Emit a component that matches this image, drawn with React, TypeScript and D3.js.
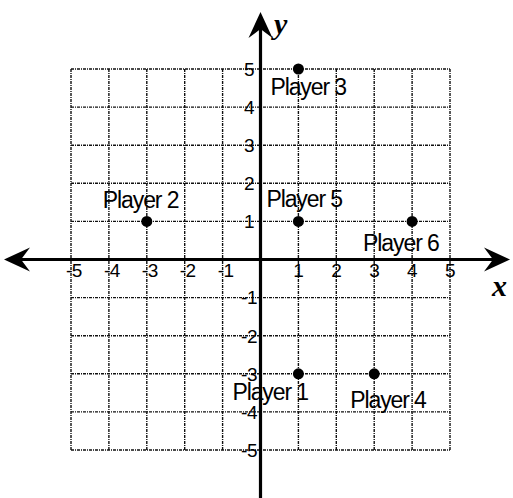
import React from "react";
import * as d3 from "d3";

const ticks = [-5, -4, -3, -2, -1, 1, 2, 3, 4, 5];
const gridValues = [-5, -4, -3, -2, -1, 0, 1, 2, 3, 4, 5];
const playerNames = ["Player 1", "Player 2", "Player 3", "Player 4", "Player 5", "Player 6"];
const playerX = [1, -3, 1, 3, 1, 4];
const playerY = [-3, 1, 5, -3, 1, 1];
// label offsets (px) relative to each point: [dx of text start, dy of baseline]
const labelDx = [-66, -44, -28, -24, -32, -49];
const labelDy = [26, -13, 26, 34, -14, 30];

const W = 513;
const H = 498;

export default function App() {
  const x = d3.scaleLinear().domain([-5, 5]).range([71, 450]);
  const y = d3.scaleLinear().domain([-5, 5]).range([450, 69]);
  const x0 = x(0);
  const y0 = y(0);
  const font = "'Liberation Sans', Arial, sans-serif";
  const serif = "'Liberation Serif', 'Times New Roman', serif";

  const arrow = (tipX: number, tipY: number, dir: "l" | "r" | "u") => {
    const L = 26, Wd = 12, notch = 9;
    let pts: [number, number][] = [];
    if (dir === "r") pts = [[tipX, tipY], [tipX - L, tipY - Wd], [tipX - L + notch, tipY], [tipX - L, tipY + Wd]];
    if (dir === "l") pts = [[tipX, tipY], [tipX + L, tipY - Wd], [tipX + L - notch, tipY], [tipX + L, tipY + Wd]];
    if (dir === "u") pts = [[tipX, tipY], [tipX - Wd, tipY + L], [tipX, tipY + L - notch], [tipX + Wd, tipY + L]];
    return <path d={d3.line()(pts)! + "Z"} fill="#000" />;
  };

  return (
    <svg width={W} height={H} style={{ position: "absolute", left: 0, top: 0, background: "#fff" }}>
      <rect width={W} height={H} fill="#fff" />
      <g stroke="#111" strokeWidth={1.4} strokeDasharray="3 1 1 1">
        {gridValues.map((v) => (
          <line key={"v" + v} x1={x(v)} x2={x(v)} y1={y(5)} y2={y(-5)} />
        ))}
        {gridValues.map((v) => (
          <line key={"h" + v} x1={x(-5)} x2={x(5)} y1={y(v)} y2={y(v)} />
        ))}
      </g>
      {/* axes */}
      <line x1={14} x2={500} y1={y0} y2={y0} stroke="#000" strokeWidth={3.2} />
      <line x1={x0} x2={x0} y1={22} y2={H} stroke="#000" strokeWidth={3.2} />
      {arrow(4, y0, "l")}
      {arrow(510, y0, "r")}
      {arrow(x0, 12, "u")}
      <text x={492} y={296} fontFamily={serif} fontStyle="italic" fontWeight="bold" fontSize={30} fill="#000">x</text>
      <text x={274} y={34} fontFamily={serif} fontStyle="italic" fontWeight="bold" fontSize={30} fill="#000">y</text>
      <text x={250} y={510} fontFamily={serif} fontStyle="italic" fontSize={26} fill="#000">y</text>
      {/* x tick labels */}
      {ticks.map((t) => (
        <text key={"xt" + t} x={x(t) + (t < 0 ? 3 : 0)} y={277} textAnchor="middle" fontFamily={font} fontSize={19} letterSpacing={-0.5} fill="#000">
          {t}
        </text>
      ))}
      {/* y tick labels */}
      {ticks.map((t) => (
        <text key={"yt" + t} x={t < 0 ? 257 : 254} y={y(t)} dy="0.36em" textAnchor="end" fontFamily={font} fontSize={19} letterSpacing={-0.5} fill="#000">
          {t}
        </text>
      ))}
      {/* points */}
      {playerNames.map((n, i) => (
        <g key={n}>
          <circle cx={x(playerX[i])} cy={y(playerY[i])} r={5.5} fill="#000" />
          <text x={x(playerX[i]) + labelDx[i]} y={y(playerY[i]) + labelDy[i]} fontFamily={font} fontSize={23} letterSpacing={-1.1} fill="#000">
            {n}
          </text>
        </g>
      ))}
    </svg>
  );
}
